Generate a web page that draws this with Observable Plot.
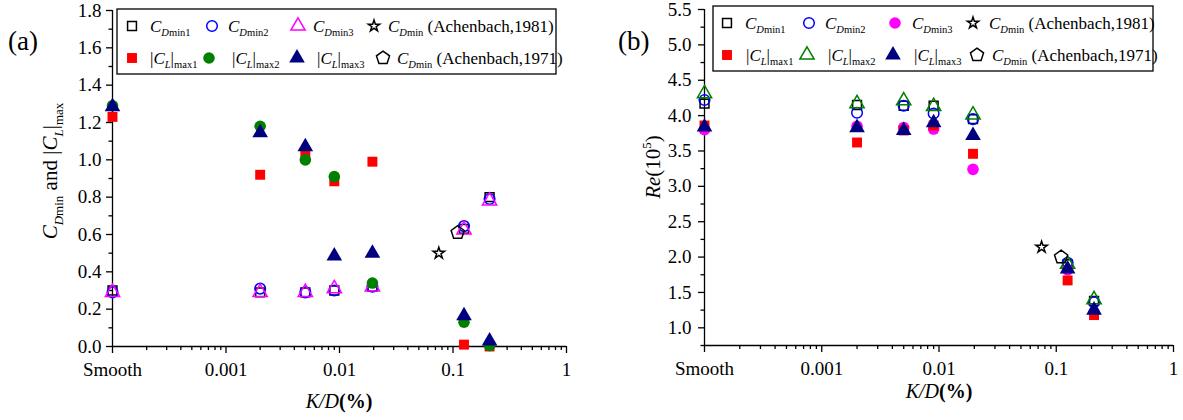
<!DOCTYPE html>
<html><head><meta charset="utf-8">
<script src="https://cdn.jsdelivr.net/npm/d3@7"></script>
<script src="https://cdn.jsdelivr.net/npm/@observablehq/plot@0.6"></script>
<style>
html,body{margin:0;padding:0;background:#fff;}
#wrap{position:relative;width:1183px;height:420px;overflow:hidden;font-family:'Liberation Serif','Times New Roman',serif;}
#wrap svg{position:absolute;top:0;overflow:visible;}
</style></head><body><div id="wrap"></div>
<script>
// ---------- data ----------
const kd = [0.0001, 0.002, 0.005, 0.009, 0.0195, 0.125, 0.21];
const xTicks = [0.0001, 0.001, 0.01, 0.1, 1];
const xTickLabels = ["Smooth", "0.001", "0.01", "0.1", "1"];

// panel (a): CDmin and |CL|max
const aCDmin1 = [0.30, 0.29, 0.29, 0.30, 0.32, 0.63, 0.80];
const aCDmin2 = [0.29, 0.31, 0.29, 0.30, 0.32, 0.645, 0.79];
const aCDmin3 = [0.29, 0.29, 0.29, 0.31, 0.32, 0.625, 0.78];
const aCLmax1 = [1.23, 0.92, 1.04, 0.885, 0.99, 0.01, 0.0];
const aCLmax2 = [1.29, 1.18, 1.00, 0.91, 0.34, 0.13, 0.005];
const aCLmax3 = [1.285, 1.145, 1.07, 0.485, 0.50, 0.165, 0.03];
const aYTicks = [0, 0.2, 0.4, 0.6, 0.8, 1.0, 1.2, 1.4, 1.6, 1.8];
const aYMinor = [0.1, 0.3, 0.5, 0.7, 0.9, 1.1, 1.3, 1.5, 1.7];

// panel (b): Re (10^5)
const bCDmin1 = [4.17, 4.15, 4.14, 4.14, 3.95, 1.90, 1.38];
const bCDmin2 = [4.22, 4.04, 4.14, 4.03, 3.95, 1.92, 1.36];
const bCDmin3 = [3.80, 3.85, 3.83, 3.81, 3.24, 1.82, 1.22];
const bCLmax1 = [3.86, 3.62, 3.79, 3.86, 3.46, 1.67, 1.18];
const bCLmax2 = [4.31, 4.17, 4.21, 4.13, 4.01, 1.90, 1.40];
const bCLmax3 = [3.84, 3.83, 3.79, 3.90, 3.72, 1.83, 1.25];
const bYTicks = [1.0, 1.5, 2.0, 2.5, 3.0, 3.5, 4.0, 4.5, 5.0, 5.5];
const bYMinor = [0.75, 1.25, 1.75, 2.25, 2.75, 3.25, 3.75, 4.25, 4.75, 5.25];

// Achenbach reference points
const achen1981K = [0.075];
const achen1971K = [0.11];
const aAchen1981 = [0.50];
const aAchen1971 = [0.61];
const bAchen1981 = [2.14];
const bAchen1971 = [2.00];

// ---------- helpers ----------
const pentagon = {
  draw(ctx, size) {
    const R = Math.sqrt(size / 2.3776);
    for (let i = 0; i < 5; i++) {
      const a = -Math.PI / 2 + i * 2 * Math.PI / 5;
      const x = R * Math.cos(a), y = R * Math.sin(a);
      if (i) ctx.lineTo(x, y); else ctx.moveTo(x, y);
    }
    ctx.closePath();
  }
};
const symMap = {square: d3.symbolSquare, circle: d3.symbolCircle, triangle: d3.symbolTriangle, star: d3.symbolStar};
const toSym = s => typeof s === "string" ? symMap[s] : s;

const xMinor = [];
for (let e = -4; e < 0; e++) for (let m = 2; m <= 9; m++) xMinor.push(+(m * Math.pow(10, e)).toPrecision(3));

function rows(xs, ys) { return xs.map((k, i) => ({k, v: ys[i]})); }

function rich(sel, parts, size) {
  let cur = 0;
  parts.forEach(p => {
    const target = p.sub ? size * 0.28 : p.sup ? -size * 0.42 : 0;
    const ts = sel.append("tspan").text(p.t);
    if (target - cur !== 0) ts.attr("dy", target - cur);
    cur = target;
    if (p.sub || p.sup) ts.attr("font-size", size * 0.62);
    if (p.it) ts.attr("font-style", "italic");
    if (p.b) ts.attr("font-weight", "bold");
  });
}

const CD = n => [{t: "C", it: true}, {t: "D", it: true, sub: true}, {t: "min" + n, sub: true}];
const CL = n => [{t: "|"}, {t: "C", it: true}, {t: "L", it: true, sub: true}, {t: "|"}, {t: "max" + n, sub: true}];
const ACH = yr => [...CD(""), {t: " (Achenbach," + yr + ")"}];

const FONT = "'Liberation Serif','Times New Roman',serif";
// legend reading order: row 1 = CDmin1, CDmin2, CDmin3, Achenbach 1981; row 2 = |CL|max1..3, Achenbach 1971
const legendOrder = [0, 1, 2, 6, 3, 4, 5, 7];

function makePanel(cfg) {
  const series = cfg.series;
  const marks = [
    Plot.axisY({ticks: cfg.yTicks, tickFormat: d => d.toFixed(1), tickSize: 6, tickPadding: cfg.yPad, label: null, strokeWidth: 1.3, fontFamily: FONT, fontSize: 19}),
    Plot.axisY({ticks: cfg.yMinor, tickFormat: () => "", tickSize: 3.5, label: null, strokeWidth: 1.3}),
    Plot.axisX({ticks: xTicks, tickFormat: d => xTickLabels[xTicks.indexOf(d)], tickSize: 7, tickPadding: 9, label: null, strokeWidth: 1.3, fontFamily: FONT, fontSize: 19}),
    Plot.axisX({ticks: xMinor, tickFormat: () => "", tickSize: 4, label: null, strokeWidth: 1.3}),
    Plot.ruleX([xTicks[0]], {stroke: "black", strokeWidth: 1.3}),
    Plot.ruleY([cfg.yDomain[0]], {stroke: "black", strokeWidth: 1.3})
  ];
  series.forEach(s => {
    marks.push(Plot.dot(rows(s.xs, s.ys), {
      x: "k", y: "v", symbol: s.symbol, r: s.r,
      fill: s.filled ? s.color : "none",
      stroke: s.color, strokeWidth: s.filled ? 0 : 1.5
    }));
  });
  const svg = Plot.plot({
    width: cfg.width, height: 420,
    marginLeft: cfg.ml, marginRight: cfg.mr, marginTop: cfg.mt, marginBottom: cfg.mb,
    x: {type: "log", domain: [1e-4, 1]},
    y: {domain: cfg.yDomain},
    style: {fontFamily: FONT, fontSize: "19px", color: "black", background: "transparent", overflow: "visible"},
    marks
  });
  svg.style.left = cfg.left + "px";
  const g = d3.select(svg).append("g").attr("text-anchor", "start").attr("font-family", FONT).attr("fill", "black");
  // panel tag
  g.append("text").attr("x", cfg.tag[0]).attr("y", cfg.tag[1]).attr("font-size", 27).text(cfg.tagText);
  // x title
  const xt = g.append("text").attr("x", cfg.xTitle[0]).attr("y", cfg.xTitle[1]).attr("text-anchor", "middle").attr("font-size", 20);
  rich(xt, [{t: "K/D", it: true}, {t: "(%)", b: true}], 20);
  // y title
  const yt = g.append("text").attr("transform", `translate(${cfg.yTitle[0]},${cfg.yTitle[1]}) rotate(-90)`).attr("text-anchor", "middle").attr("font-size", 21);
  rich(yt, cfg.yTitleParts, 21);
  // legend
  const L = cfg.legend;
  g.append("rect").attr("x", L.box[0]).attr("y", L.box[1]).attr("width", L.box[2] - L.box[0]).attr("height", L.box[3] - L.box[1])
    .attr("fill", "white").attr("stroke", "black").attr("stroke-width", 1.3);
  legendOrder.forEach((si, slot) => {
    const s = series[si];
    const pos = L.pos[slot];
    g.append("path").attr("d", d3.symbol(toSym(s.symbol), Math.PI * s.r * s.r)())
      .attr("transform", `translate(${pos[0]},${pos[2]})`)
      .attr("fill", s.filled ? s.color : "none").attr("stroke", s.filled ? "none" : s.color).attr("stroke-width", 1.5);
    const t = g.append("text").attr("x", pos[1]).attr("y", pos[2] + 5.5).attr("font-size", 17).attr("text-anchor", "start");
    rich(t, s.label, 17);
  });
  return svg;
}

const seriesA = [
  {xs: kd, ys: aCDmin1, symbol: "square", r: 5.0, color: "black", filled: false, label: CD("1")},
  {xs: kd, ys: aCDmin2, symbol: "circle", r: 5.3, color: "#0000FF", filled: false, label: CD("2")},
  {xs: kd, ys: aCDmin3, symbol: "triangle", r: 5.3, color: "#FF00FF", filled: false, label: CD("3")},
  {xs: kd, ys: aCLmax1, symbol: "square", r: 5.6, color: "#FF0000", filled: true, label: CL("1")},
  {xs: kd, ys: aCLmax2, symbol: "circle", r: 5.8, color: "#008000", filled: true, label: CL("2")},
  {xs: kd, ys: aCLmax3, symbol: "triangle", r: 5.8, color: "#000080", filled: true, label: CL("3")},
  {xs: achen1981K, ys: aAchen1981, symbol: "star", r: 3.6, color: "black", filled: false, label: ACH("1981")},
  {xs: achen1971K, ys: aAchen1971, symbol: pentagon, r: 6.0, color: "black", filled: false, label: ACH("1971")}
];
const seriesB = [
  {xs: kd, ys: bCDmin1, symbol: "square", r: 5.0, color: "black", filled: false, label: CD("1")},
  {xs: kd, ys: bCDmin2, symbol: "circle", r: 5.3, color: "#0000FF", filled: false, label: CD("2")},
  {xs: kd, ys: bCDmin3, symbol: "circle", r: 5.8, color: "#FF00FF", filled: true, label: CD("3")},
  {xs: kd, ys: bCLmax1, symbol: "square", r: 5.6, color: "#FF0000", filled: true, label: CL("1")},
  {xs: kd, ys: bCLmax2, symbol: "triangle", r: 5.3, color: "#008000", filled: false, label: CL("2")},
  {xs: kd, ys: bCLmax3, symbol: "triangle", r: 5.8, color: "#000080", filled: true, label: CL("3")},
  {xs: achen1981K, ys: bAchen1981, symbol: "star", r: 3.6, color: "black", filled: false, label: ACH("1981")},
  {xs: achen1971K, ys: bAchen1971, symbol: pentagon, r: 6.0, color: "black", filled: false, label: ACH("1971")}
];

const wrap = document.getElementById("wrap");
wrap.appendChild(makePanel({
  left: 0, width: 590, ml: 112, mr: 24, mt: 10, mb: 74, yPad: 5,
  yDomain: [0, 1.8], yTicks: aYTicks, yMinor: aYMinor, series: seriesA,
  tag: [8, 50], tagText: "(a)", xTitle: [339, 408], yTitle: [57, 171],
  yTitleParts: [...CD(""), {t: " and "}, ...CL("")],
  legend: {
    box: [117, 9, 556, 74],
    // [marker x, text x, row y]
    pos: [[132, 150, 26], [212, 228, 26], [298, 313, 26], [374, 388, 26],
          [132, 150, 58], [209, 232, 58], [297, 317, 58], [383, 397, 58]]
  }
}));
wrap.appendChild(makePanel({
  left: 590, width: 593, ml: 114, mr: 10, mt: 9, mb: 75, yPad: 7,
  yDomain: [0.75, 5.5], yTicks: bYTicks, yMinor: bYMinor, series: seriesB,
  tag: [28, 50], tagText: "(b)", xTitle: [349, 398], yTitle: [70, 167],
  yTitleParts: [{t: "Re", it: true}, {t: "(10"}, {t: "5", sup: true}, {t: ")"}],
  legend: {
    box: [123, 6, 563, 71],
    pos: [[137, 155, 23], [219, 235, 23], [305, 322, 23], [383, 399, 23],
          [137, 156, 55], [217, 238, 55], [303, 324, 55], [387, 402, 55]]
  }
}));
</script></body></html>
